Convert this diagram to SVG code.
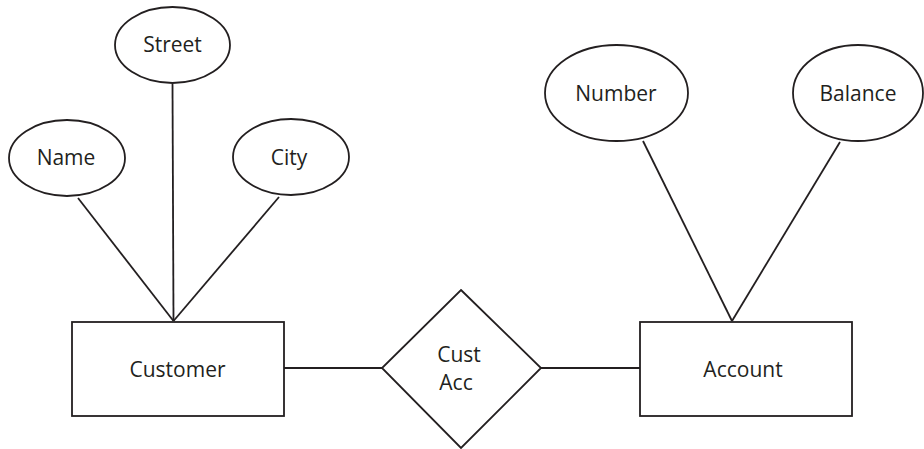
<svg xmlns="http://www.w3.org/2000/svg" width="924" height="449" viewBox="0 0 924 449">
<style>
.s{fill:#fff;stroke:#231f20;stroke-width:1.8}
.l{stroke:#231f20;stroke-width:1.8;fill:none}
text{font-family:"Open Sans","Noto Sans",sans-serif;font-size:21px;fill:#231f20;text-anchor:middle}
</style>
<rect width="924" height="449" fill="#fff"/>
<g id="connectors">
<line class="l" x1="172.5" y1="84" x2="173.5" y2="321"/>
<line class="l" x1="78" y1="198" x2="173.5" y2="321"/>
<line class="l" x1="279" y1="197" x2="173.5" y2="321"/>
<line class="l" x1="643" y1="141" x2="732" y2="321"/>
<line class="l" x1="840" y1="142" x2="732" y2="321"/>
<line class="l" x1="284" y1="368" x2="382" y2="368"/>
<line class="l" x1="541" y1="368" x2="640" y2="368"/>
</g>
<g id="street"><ellipse class="s" cx="172.5" cy="45" rx="57.5" ry="38"/><text x="172.5" y="52">Street</text></g>
<g id="name"><ellipse class="s" cx="67" cy="158" rx="58" ry="38"/><text x="66" y="165">Name</text></g>
<g id="city"><ellipse class="s" cx="291" cy="157" rx="58" ry="38"/><text x="289" y="165">City</text></g>
<g id="number"><ellipse class="s" cx="616.5" cy="93" rx="71.5" ry="48"/><text x="616" y="101">Number</text></g>
<g id="balance"><ellipse class="s" cx="858" cy="93" rx="65" ry="48"/><text x="858" y="101">Balance</text></g>
<g id="customer"><rect class="s" x="72" y="322" width="212" height="94"/><text x="177.5" y="377">Customer</text></g>
<g id="account"><rect class="s" x="640" y="322" width="212" height="94"/><text x="743" y="377">Account</text></g>
<g id="custacc"><polygon class="s" points="461,290 541,368 461,448 382,368"/><text x="459" y="362">Cust</text><text x="456" y="390">Acc</text></g>
</svg>
